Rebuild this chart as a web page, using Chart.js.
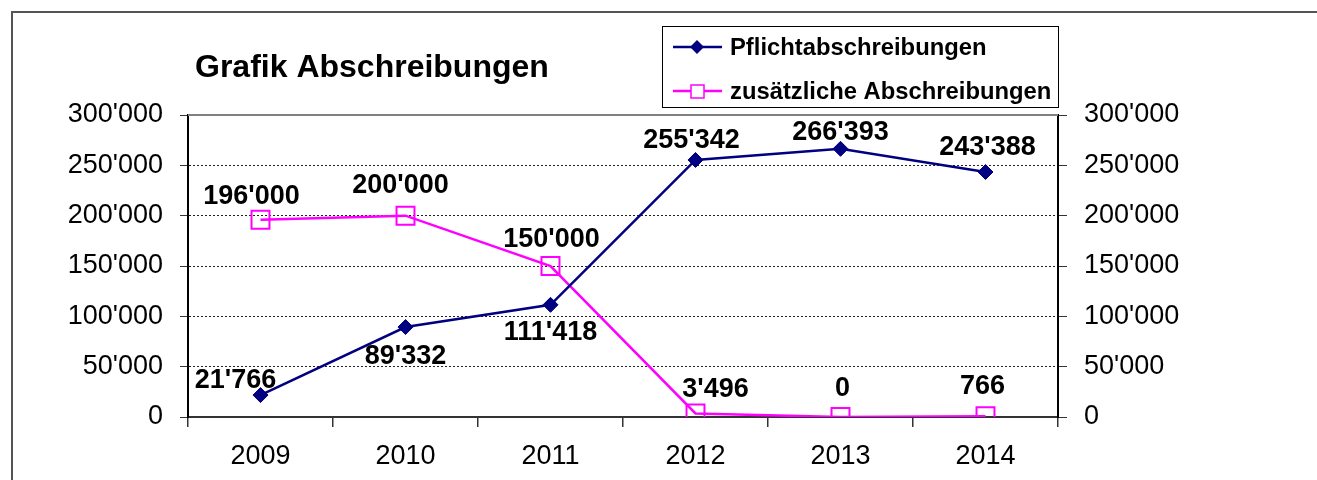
<!DOCTYPE html>
<html lang="de">
<head>
<meta charset="utf-8">
<title>Grafik Abschreibungen</title>
<script src="https://cdn.jsdelivr.net/npm/chart.js@4.4.1/dist/chart.umd.min.js"></script>
<style>
	html, body { margin: 0; padding: 0; background: #fff; overflow: hidden; }
	#wrap { position: relative; width: 1317px; height: 480px; }
</style>
</head>
<body>
<div id="wrap"><canvas id="chart" width="1317" height="480"></canvas></div>
<script>
// Chart data
const YEARS = ['2009', '2010', '2011', '2012', '2013', '2014'];
const PFLICHT = [21766, 89332, 111418, 255342, 266393, 243388];
const ZUSAETZLICH = [196000, 200000, 150000, 3496, 0, 766];
const CHART_TITLE = 'Grafik Abschreibungen';
const SERIES_NAMES = ['Pflichtabschreibungen', 'zusätzliche Abschreibungen'];

// label offsets (px, relative to the point), one pair per point
const LABEL_OFFSETS = [
	[[-25, -15], [0, 29], [0, 28], [-4, -19], [0, -16], [2, -24]],
	[[-9, -23], [-5, -30], [1, -26], [20, -24], [2, -28], [-3, -30]]
];

const FONT = '"Liberation Sans", Arial, sans-serif';
const NAVY = '#000080';
const MAGENTA = '#ff00ff';

function fmt(v) {
	return String(Math.round(v)).replace(/\B(?=(\d{3})+(?!\d))/g, "'");
}

// draws frame, title, legend, top border and point labels
const decorPlugin = {
	id: 'decor',
	beforeDraw(chart) {
		const ctx = chart.ctx;
		ctx.save();
		ctx.fillStyle = '#fff';
		ctx.fillRect(0, 0, chart.width, chart.height);
		// outer frame (only top/left edges visible)
		ctx.strokeStyle = '#555';
		ctx.lineWidth = 2;
		ctx.beginPath();
		ctx.moveTo(12, chart.height);
		ctx.lineTo(12, 12);
		ctx.lineTo(chart.width, 12);
		ctx.stroke();
		ctx.restore();
	},
	afterDraw(chart) {
		const ctx = chart.ctx;
		const area = chart.chartArea;
		ctx.save();

		// top border of plot area
		ctx.strokeStyle = '#808080';
		ctx.lineWidth = 2;
		ctx.beginPath();
		ctx.moveTo(area.left, area.top);
		ctx.lineTo(area.right, area.top);
		ctx.stroke();

		// title
		ctx.fillStyle = '#000';
		ctx.font = 'bold 32px ' + FONT;
		ctx.textAlign = 'left';
		ctx.textBaseline = 'alphabetic';
		ctx.fillText(CHART_TITLE, 195, 77);

		// legend box
		ctx.strokeStyle = '#000';
		ctx.lineWidth = 1;
		ctx.strokeRect(662.5, 26.5, 396, 81);
		const rows = [47, 91];
		chart.data.datasets.forEach((ds, i) => {
			const y = rows[i];
			ctx.strokeStyle = ds.borderColor;
			ctx.lineWidth = 2.5;
			ctx.beginPath();
			ctx.moveTo(673, y);
			ctx.lineTo(722, y);
			ctx.stroke();
			if (i === 0) {
				ctx.fillStyle = NAVY;
				ctx.beginPath();
				ctx.moveTo(697, y - 7);
				ctx.lineTo(704, y);
				ctx.lineTo(697, y + 7);
				ctx.lineTo(690, y);
				ctx.closePath();
				ctx.fill();
			} else {
				ctx.fillStyle = '#fff';
				ctx.fillRect(691, y - 6, 13, 13);
				ctx.strokeStyle = MAGENTA;
				ctx.lineWidth = 1.5;
				ctx.strokeRect(691, y - 6, 13, 13);
			}
			ctx.fillStyle = '#000';
			ctx.font = 'bold 23.8px ' + FONT;
			ctx.textBaseline = 'middle';
			ctx.fillText(ds.label, 730, y + 1);
		});

		// point labels
		ctx.font = 'bold 27px ' + FONT;
		ctx.textAlign = 'center';
		ctx.textBaseline = 'middle';
		ctx.fillStyle = '#000';
		chart.data.datasets.forEach((ds, i) => {
			const meta = chart.getDatasetMeta(i);
			meta.data.forEach((pt, j) => {
				const off = LABEL_OFFSETS[i][j];
				ctx.fillText(fmt(ds.data[j]), pt.x + off[0], pt.y + off[1]);
			});
		});
		ctx.restore();
	}
};

Chart.defaults.font.family = FONT;
Chart.defaults.color = '#000';

new Chart(document.getElementById('chart').getContext('2d'), {
	type: 'line',
	data: {
		labels: YEARS,
		datasets: [
			{
				label: SERIES_NAMES[0],
				data: PFLICHT,
				borderColor: NAVY,
				backgroundColor: NAVY,
				borderWidth: 2.5,
				pointStyle: 'rectRot',
				pointRadius: 7.5,
				pointBackgroundColor: NAVY,
				pointBorderColor: NAVY,
				pointBorderWidth: 1,
				tension: 0,
				yAxisID: 'y'
			},
			{
				label: SERIES_NAMES[1],
				data: ZUSAETZLICH,
				borderColor: MAGENTA,
				backgroundColor: 'rgba(0,0,0,0)',
				borderWidth: 2.5,
				pointStyle: 'rect',
				pointRadius: 12.7,
				pointBackgroundColor: 'rgba(0,0,0,0)',
				pointBorderColor: MAGENTA,
				pointBorderWidth: 2,
				tension: 0,
				yAxisID: 'y'
			}
		]
	},
	options: {
		responsive: false,
		animation: false,
		devicePixelRatio: 1,
		layout: { padding: { top: 115, left: 0, right: 0, bottom: 0 } },
		plugins: {
			legend: { display: false },
			title: { display: false },
			tooltip: { enabled: false }
		},
		scales: {
			x: {
				type: 'category',
				offset: true,
				grid: {
					offset: true,
					drawOnChartArea: false,
					drawTicks: true,
					tickLength: 10,
					color: '#333',
					lineWidth: 1.5
				},
				border: { color: '#333', width: 2 },
				ticks: { font: { size: 27 }, color: '#000', padding: 13, maxRotation: 0 },
				afterFit(scale) { scale.height = 63; }
			},
			y: {
				position: 'left',
				min: 0,
				max: 300000,
				grid: {
					color: '#222',
					lineWidth: 1,
					tickLength: 8,
					tickColor: '#333'
				},
				border: { color: '#000', width: 2, dash: [2, 2] },
				ticks: {
					stepSize: 50000,
					font: { size: 27 },
					color: '#000',
					padding: 17,
					callback: v => fmt(v)
				},
				afterFit(scale) { scale.width = 188; }
			},
			y2: {
				position: 'right',
				min: 0,
				max: 300000,
				grid: {
					drawOnChartArea: false,
					tickLength: 9,
					tickColor: '#333'
				},
				border: { color: '#000', width: 2 },
				ticks: {
					stepSize: 50000,
					font: { size: 27 },
					color: '#000',
					padding: 17,
					callback: v => fmt(v)
				},
				afterFit(scale) { scale.width = 259; }
			}
		}
	},
	plugins: [decorPlugin]
});
</script>
</body>
</html>
